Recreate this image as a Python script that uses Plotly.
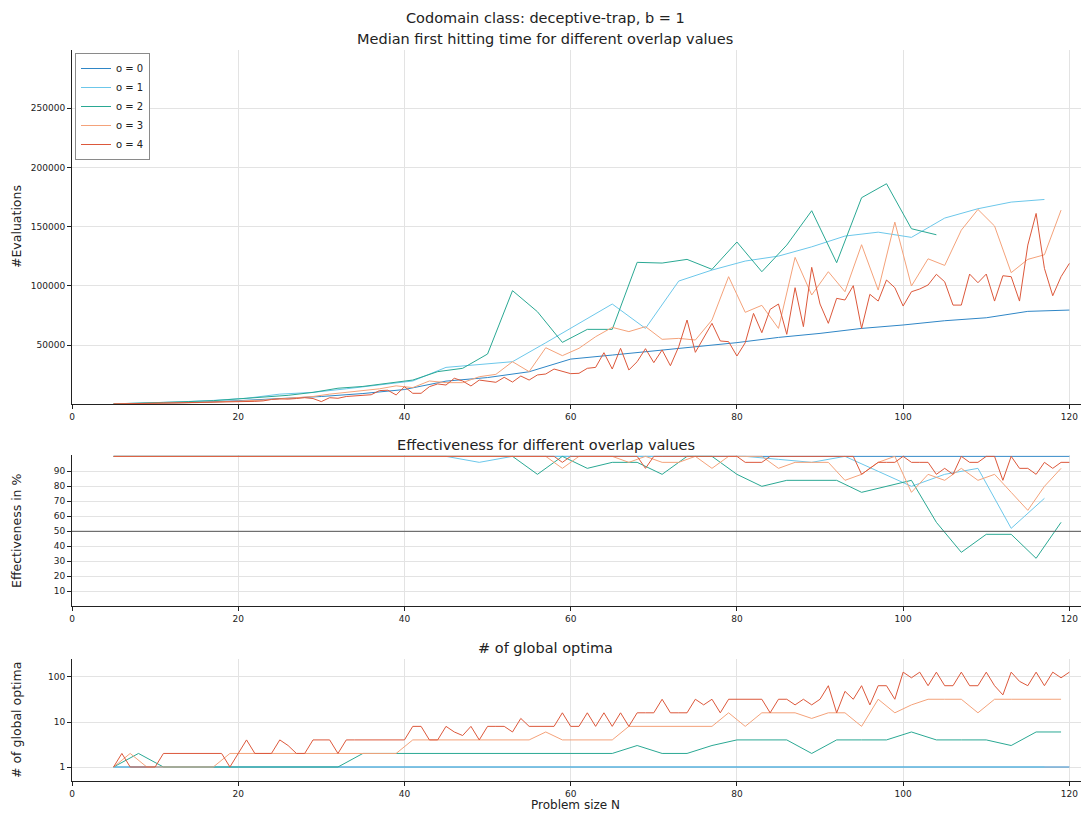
import plotly.graph_objects as go

# ---------------- data ----------------
N0 = list(range(5, 121, 5))
N1 = list(range(5, 118, 4))
N2 = list(range(5, 120, 3))
N3 = list(range(5, 120, 2))
N4 = list(range(5, 121))

labels = ["o = 0", "o = 1", "o = 2", "o = 3", "o = 4"]
colors = ["#2f86c6", "#6cc7ea", "#2aa893", "#f4a27a", "#dc583b"]

time0 = [150, 600, 1500, 3000, 4500, 6500, 9000, 12400, 19500, 22500, 27400, 38100,
         41500, 44900, 48900, 52000, 56400, 59800, 64000, 66900, 70500, 73000, 78400, 79500]
time1 = [250, 900, 2000, 3200, 5000, 8500, 10000, 13000, 16500, 19600, 31100, 33600,
         35900, 51900, 68300, 84600, 64000, 104000, 113300, 120900, 125100, 132900,
         142000, 145300, 140900, 157200, 165100, 170700, 172900]
time2 = [300, 700, 1500, 2200, 3000, 4500, 6000, 7500, 10000, 13500, 15000, 18000,
         20400, 27500, 30300, 42400, 95900, 78100, 52200, 63200, 63200, 119800, 119200,
         122300, 113900, 137000, 111900, 134400, 163400, 119500, 174400, 186200, 148200,
         143100, None, None, None, None, None]
time3 = [200, 300, 500, 700, 1000, 1300, 1800, 2300, 3000, 3500, 4500, 5500, 6500, 8500,
         10000, 11500, 13000, 15500, 14000, 19600, 18200, 18200, 23200, 25200, 35900,
         27500, 47700, 41000, 47200, 57000, 64900, 61300, 65500, 54800, 55600, 54200,
         71100, 107700, 77600, 83500, 64000, 124000, 92200, 111900, 95000, 134700, 96400,
         153800, 99800, 122800, 117200, 147000, 164500, 150500, 111100, 122300, 126200,
         163900]
time4 = [200, 300, 350, 450, 500, 600, 700, 800, 950, 1100, 1200, 1400, 1500, 1700, 1800,
         2000, 2100, 2400, 2800, 4000, 4500, 4300, 4800, 5500, 4800, 2200, 5500, 5000,
         6500, 7000, 7200, 8000, 11500, 11800, 7800, 14800, 9200, 9200, 14800, 17100,
         16200, 21900, 19600, 15400, 20400, 19600, 18500, 22700, 18700, 23800, 20400,
         24700, 25500, 29700, 27500, 25800, 26100, 30300, 31100, 43500, 29700, 47200,
         28900, 35900, 46900, 35100, 45800, 32500, 48600, 71100, 43800, 55600, 68300,
         53400, 52800, 40700, 51900, 76700, 60400, 80100, 84600, 59000, 98400, 65500,
         115600, 84600, 68300, 89400, 88000, 100100, 64000, 92800, 87100, 104900, 98400,
         82900, 95000, 97300, 100700, 109700, 103400, 83700, 83700, 109900, 102600,
         109900, 87100, 108500, 107700, 87100, 134400, 161100, 114700, 91600, 107700,
         118900]

eff0 = [100] * 24
eff1 = [100, 100, 100, 100, 100, 100, 100, 100, 100, 100, 100, 96, 100, 100, 100, 100,
        100, 100, 100, 100, 98, 96, 100, 90, 80, 88, 92, 52, 72]
eff2 = [100] * 17 + [88, 100, 92, 96, 96, 88, 100, 100, 88, 80, 84, 84, 84, 76, 80, 84,
                     56, 36, 48, 48, 32, 56]
eff3 = [100] * 27 + [92, 100, 100, 100, 96, 100, 96, 96, 100, 92, 100, 100, 100, 92, 96,
                     96, 96, 84, 88, 96, 100, 76, 88, 84, 92, 84, 88, 76, 64, 80, 92]
eff4 = [100] * 54 + [96] + [100] * 9 + [92] + [100] * 11 + [96, 96, 96] + [100] * 11 + \
       [88, 92, 96, 96, 96, 100, 96, 96, 96, 88, 92, 88, 100, 96, 96, 100, 100, 84, 100,
        92, 92, 88, 96, 92, 96, 96]

glob0 = [1] * 24
glob1 = [1] * 29
glob2 = [1, 2] + [1] * 8 + [2] * 11 + [3, 2, 2, 3, 4, 4, 4, 2, 4, 4, 4, 6, 4, 4, 4, 3, 6, 6]
glob3 = [1, 2] + [1] * 5 + [2] * 11 + [4] * 8 + [6, 4, 4, 4, 4] + [8] * 6 + \
        [16, 8, 16, 16, 16, 12, 16, 16, 8, 32, 16, 24, 32, 32, 32, 16] + [32] * 5
glob4 = [1, 2, 1, 1, 1, 1, 2, 2, 2, 2, 2, 2, 2, 2, 1, 2, 4, 2, 2, 2, 4, 3, 2, 2, 4, 4, 4,
         2, 4, 4, 4, 4, 4, 4, 4, 4, 8, 8, 4, 4, 8, 6, 5, 8, 4, 8, 8, 8, 6, 12, 8, 8, 8, 8,
         16, 8, 8, 16, 8, 16, 8, 16, 8, 16, 16, 16, 32, 16, 16, 16, 32, 24, 32, 16, 32,
         32, 32, 32, 32, 16, 32, 32, 24, 32, 24, 32, 64, 16, 48, 32, 64, 24, 64, 64, 32,
         128, 96, 128, 64, 128, 64, 64, 128, 64, 64, 128, 64, 40, 128, 80, 64, 128, 64,
         128, 96, 128]

Ns = [N0, N1, N2, N3, N4]
times = [time0, time1, time2, time3, time4]
effs = [eff0, eff1, eff2, eff3, eff4]
globs = [glob0, glob1, glob2, glob3, glob4]

# ---------------- figure ----------------
W, H = 1086, 814
ML, MR, MT, MB = 72, 5, 50, 33
PH = H - MT - MB


def py(y):  # pixel -> paper y
    return (H - MB - y) / PH


def px(x):
    return (x - ML) / (W - ML - MR)


fig = go.Figure()
for i in range(5):
    fig.add_trace(go.Scatter(x=Ns[i], y=times[i], mode="lines", name=labels[i],
                             line=dict(color=colors[i], width=1), xaxis="x", yaxis="y",
                             legendgroup=labels[i]))
for i in range(5):
    fig.add_trace(go.Scatter(x=Ns[i], y=effs[i], mode="lines", name=labels[i],
                             line=dict(color=colors[i], width=1), xaxis="x2", yaxis="y2",
                             showlegend=False, legendgroup=labels[i]))
for i in range(5):
    fig.add_trace(go.Scatter(x=Ns[i], y=globs[i], mode="lines", name=labels[i],
                             line=dict(color=colors[i], width=1), xaxis="x3", yaxis="y3",
                             showlegend=False, legendgroup=labels[i]))

FONT = "DejaVu Sans"
GRID = "#e3e3e3"
xr = [0, 121.4]
xcommon = dict(range=xr, tickvals=[0, 20, 40, 60, 80, 100, 120], showgrid=True,
               gridcolor=GRID, gridwidth=1, showline=True, linecolor="#222", linewidth=1,
               ticks="outside", ticklen=4, tickcolor="#222",
               tickfont=dict(size=9, color="#222"), zeroline=False)
ycommon = dict(showgrid=True, gridcolor=GRID, gridwidth=1, showline=True, linecolor="#222",
               linewidth=1, ticks="outside", ticklen=4, tickcolor="#222",
               tickfont=dict(size=9, color="#222"), zeroline=False)

fig.update_layout(
    width=W, height=H,
    margin=dict(l=ML, r=MR, t=MT, b=MB),
    paper_bgcolor="white", plot_bgcolor="white",
    font=dict(family=FONT, color="#222"),
    xaxis=dict(anchor="y", domain=[0, 1], **xcommon),
    xaxis2=dict(anchor="y2", domain=[0, 1], **xcommon),
    xaxis3=dict(anchor="y3", domain=[0, 1], **xcommon),
    yaxis=dict(anchor="x", domain=[py(404.2), 1.0], range=[0, 299150],
               tickvals=[50000, 100000, 150000, 200000, 250000], tickformat="d", **ycommon),
    yaxis2=dict(anchor="x2", domain=[py(606.3), py(455.3)], range=[0, 100.7],
                tickvals=[10, 20, 30, 40, 50, 60, 70, 80, 90], **ycommon),
    yaxis3=dict(anchor="x3", domain=[0, py(659.3)], type="log", range=[-0.311, 2.393],
                tickvals=[1, 10, 100], ticktext=["1", "10", "100"], **ycommon),
    legend=dict(x=px(75), y=py(53), xanchor="left", yanchor="top",
                bgcolor="white", bordercolor="#8a8a8a", borderwidth=1,
                font=dict(size=10, family=FONT, color="#222"), itemwidth=30,
                tracegroupgap=0),
    showlegend=True,
)

fig.add_shape(type="line", xref="x2 domain", yref="y2", x0=0, x1=1, y0=50, y1=50,
              line=dict(color="#555", width=1), layer="above")

ann = [
    ("Codomain class: deceptive-trap, b = 1", 545, 18, 14.5, 0),
    ("Median first hitting time for different overlap values", 545, 38.5, 14.5, 0),
    ("Effectiveness for different overlap values", 546, 445, 14.5, 0),
    ("# of global optima", 545, 648, 14.5, 0),
    ("Problem size N", 575, 805, 12, 0),
    ("#Evaluations", 16, 227, 12.5, -90),
    ("Effectiveness in %", 16, 531, 12.5, -90),
    ("# of global optima", 16, 720, 12.5, -90),
]
for text, x, y, s, ang in ann:
    fig.add_annotation(text=text, x=px(x), y=py(y), xref="paper", yref="paper",
                       xanchor="center", yanchor="middle", showarrow=False,
                       textangle=ang, font=dict(size=s, family=FONT, color="#222"))

fig.write_html("out.html")
